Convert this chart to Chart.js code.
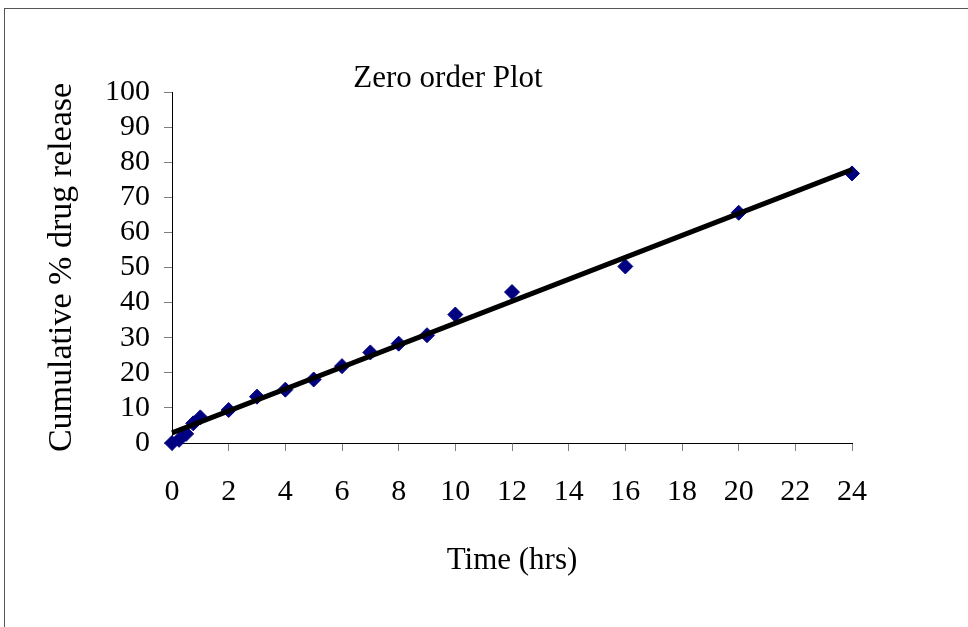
<!DOCTYPE html>
<html>
<head>
<meta charset="utf-8">
<script src="https://cdn.jsdelivr.net/npm/chart.js@4"></script>
<style>
  html, body { margin: 0; padding: 0; background: #fff; overflow: hidden; }
  #wrap { position: relative; width: 968px; height: 627px; }
  #frame { position: absolute; left: 4px; top: 8px; width: 1000px; height: 700px; border: 1px solid #555; box-sizing: border-box; pointer-events: none; }
  canvas { position: absolute; left: 0; top: 0; }
</style>
</head>
<body>
<div id="wrap">
  <canvas id="zeroOrder" width="968" height="627"></canvas>
  <div id="frame"></div>
</div>
<script>
const chartTitle = "Zero order Plot";
const xAxisTitle = "Time (hrs)";
const yAxisTitle = "Cumulative % drug release";

const timeHrs = [0, 0.25, 0.5, 0.75, 1, 2, 3, 4, 5, 6, 7, 8, 9, 10, 12, 16, 20, 24];
const releasePct = [0, 0.9, 2.6, 5.6, 7.3, 9.4, 13.2, 15.2, 18.1, 21.9, 25.8, 28.3, 30.7, 36.6, 43.0, 50.3, 65.6, 76.8];

// linear trendline ends
const trendX = [0, 24];
const trendY = [2.9, 77.9];

const serif = "'Liberation Serif', 'Times New Roman', serif";

const titlePlugin = {
  id: "plotTitle",
  afterDraw(chart) {
    const { ctx, chartArea } = chart;
    ctx.save();
    ctx.font = "31px " + serif;
    ctx.fillStyle = "#000";
    ctx.textAlign = "center";
    ctx.textBaseline = "alphabetic";
    ctx.fillText(chartTitle, (chartArea.left + chartArea.right) / 2 - 64, chartArea.top - 5);
    ctx.restore();
  }
};

new Chart(document.getElementById("zeroOrder"), {
  type: "scatter",
  data: {
    datasets: [
      {
        label: "Trend",
        type: "line",
        data: trendX.map((x, i) => ({ x, y: trendY[i] })),
        borderColor: "#000",
        borderWidth: 5,
        pointRadius: 0,
        fill: false,
        clip: false,
        order: 1
      },
      {
        label: "Release",
        data: timeHrs.map((x, i) => ({ x, y: releasePct[i] })),
        pointStyle: "rectRot",
        pointRadius: 7.5,
        backgroundColor: "#000080",
        borderColor: "#000080",
        borderWidth: 1,
        clip: false,
        order: 2
      }
    ]
  },
  options: {
    animation: false, responsive: false,
    layout: { padding: { left: 42, top: 92, right: 116, bottom: 40 } },
    plugins: { legend: { display: false }, tooltip: { enabled: false } },
    scales: {
      x: {
        type: "linear", min: 0, max: 24,
        afterFit: s => { s.height = 144; },
        ticks: { stepSize: 2, autoSkip: false, color: "#000", font: { family: serif, size: 30 }, padding: 23, maxRotation: 0 },
        grid: { display: true, drawOnChartArea: false, drawTicks: true, tickLength: 8, color: "#808080" },
        border: { color: "#000", width: 1 },
        title: { display: true, text: xAxisTitle, color: "#000", font: { family: serif, size: 31 }, padding: { top: 11, bottom: 8 } }
      },
      y: {
        min: 0, max: 100,
        afterFit: s => { s.width = 130; },
        ticks: { stepSize: 10, autoSkip: false, color: "#000", font: { family: serif, size: 30 }, padding: 14 },
        grid: { display: true, drawOnChartArea: false, drawTicks: true, tickLength: 8, color: "#808080" },
        border: { color: "#000", width: 1 },
        title: { display: true, text: yAxisTitle, color: "#000", font: { family: serif, size: 34 }, padding: { top: 0, bottom: 0 } }
      }
    }
  },
  plugins: [titlePlugin]
});
</script>
</body>
</html>
